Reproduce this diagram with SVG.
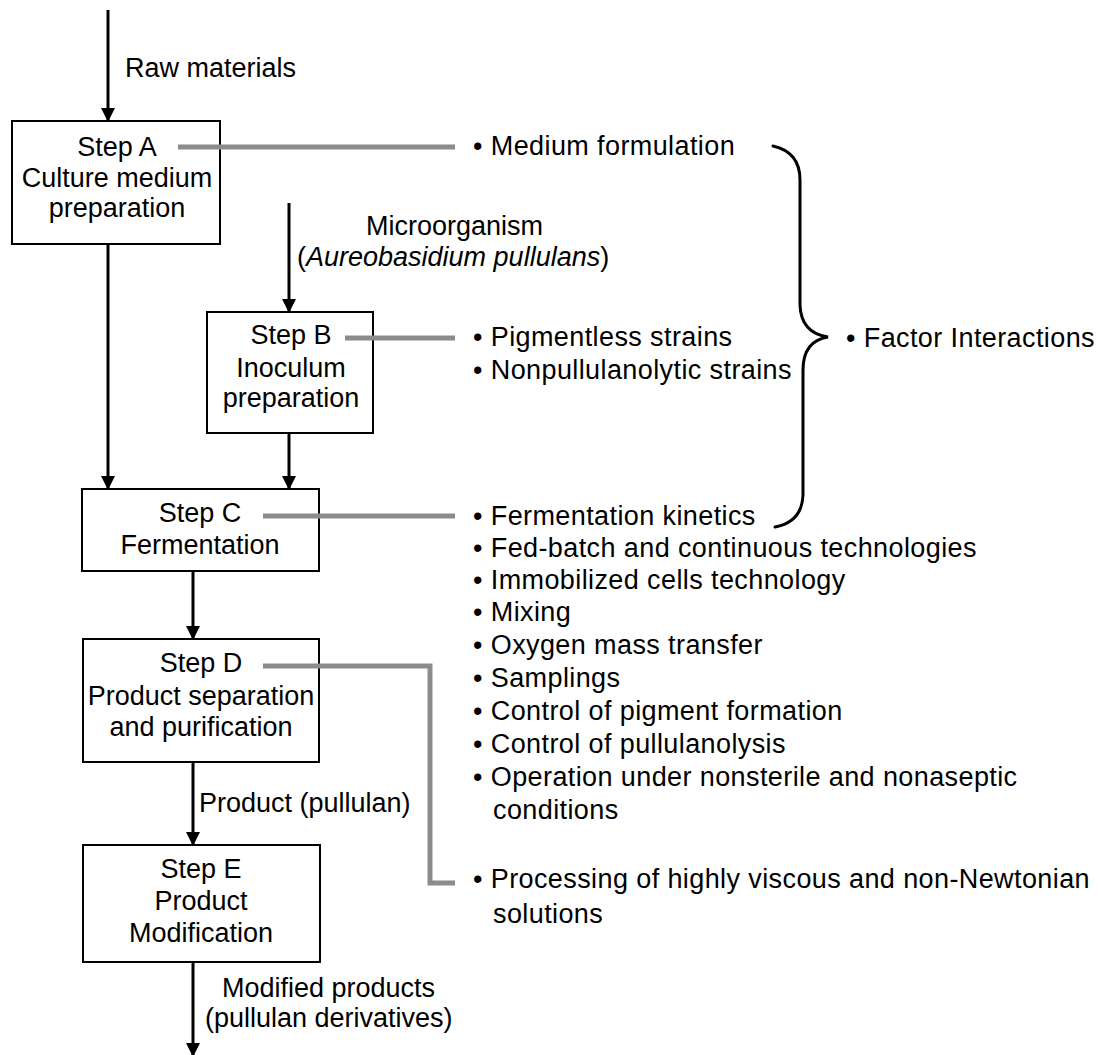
<svg xmlns="http://www.w3.org/2000/svg" width="1098" height="1055" viewBox="0 0 1098 1055">
<style>
text{font-family:"Liberation Sans",Arial,sans-serif;font-size:27px;fill:#000}
.c{text-anchor:middle}
.l{letter-spacing:0.4px}
.box{fill:#fff;stroke:#000;stroke-width:2}
.arr{stroke:#000;stroke-width:3;fill:none;marker-end:url(#ah)}
.gl{stroke:#8c8c8c;stroke-width:5;fill:none}
.br{stroke:#000;stroke-width:3;fill:none;stroke-linecap:round}
</style>
<defs>
<marker id="ah" markerWidth="14" markerHeight="14" viewBox="0 0 14 14" refX="13" refY="7" orient="auto" markerUnits="userSpaceOnUse">
<path d="M0,0 L14,7 L0,14 Z" fill="#000"/>
</marker>
</defs>
<rect width="1098" height="1055" fill="#fff"/>
<g id="stepA">
<rect class="box" x="12" y="121" width="208" height="123"/>
<text class="c" x="117" y="156">Step A</text>
<text class="c" x="117" y="187">Culture medium</text>
<text class="c" x="117" y="217">preparation</text>
</g>
<g id="stepB">
<rect class="box" x="207" y="312" width="166" height="121"/>
<text class="c" x="291" y="344">Step B</text>
<text class="c" x="291" y="377">Inoculum</text>
<text class="c" x="291" y="407">preparation</text>
</g>
<g id="stepC">
<rect class="box" x="82" y="489" width="237" height="82"/>
<text class="c" x="200" y="522">Step C</text>
<text class="c" x="200" y="554">Fermentation</text>
</g>
<g id="stepD">
<rect class="box" x="83" y="639" width="236" height="123"/>
<text class="c" x="201" y="672">Step D</text>
<text class="c" x="201" y="705">Product separation</text>
<text class="c" x="201" y="736">and purification</text>
</g>
<g id="stepE">
<rect class="box" x="83" y="845" width="237" height="117"/>
<text class="c" x="201" y="878">Step E</text>
<text class="c" x="201" y="910">Product</text>
<text class="c" x="201" y="942">Modification</text>
</g>
<g id="connectors">
<line class="arr" x1="108" y1="10" x2="108" y2="121"/>
<line class="arr" x1="108" y1="245" x2="108" y2="489"/>
<line class="arr" x1="289" y1="203" x2="289" y2="312"/>
<line class="arr" x1="289" y1="434" x2="289" y2="489"/>
<line class="arr" x1="193" y1="572" x2="193" y2="639"/>
<line class="arr" x1="193" y1="763" x2="193" y2="845"/>
<line class="arr" x1="193" y1="963" x2="193" y2="1056"/>
<line class="gl" x1="178" y1="147" x2="455" y2="147"/>
<line class="gl" x1="345" y1="338" x2="455" y2="338"/>
<line class="gl" x1="263" y1="516" x2="455" y2="516"/>
<polyline class="gl" points="263,666 430,666 430,883 455,883"/>
<path class="br" d="M773,146 Q800,152 800,180 L800,305 Q801,333 828,337 Q803,341 803,370 L803,495 Q802,522 775,527"/>
</g>
<g id="labels">
<text x="125" y="77">Raw materials</text>
<text x="366" y="235">Microorganism</text>
<text x="297" y="266">(<tspan font-style="italic">Aureobasidium pullulans</tspan>)</text>
<text x="199" y="812">Product (pullulan)</text>
<text x="222" y="997">Modified products</text>
<text x="205" y="1027">(pullulan derivatives)</text>
</g>
<g id="factorsA">
<text class="l" x="473" y="155">• Medium formulation</text>
</g>
<g id="factorsB">
<text class="l" x="473" y="346">• Pigmentless strains</text>
<text class="l" x="473" y="379">• Nonpullulanolytic strains</text>
</g>
<g id="factorInteractions">
<text class="l" x="846" y="347">• Factor Interactions</text>
</g>
<g id="factorsC">
<text class="l" x="473" y="525">• Fermentation kinetics</text>
<text class="l" x="473" y="557">• Fed-batch and continuous technologies</text>
<text class="l" x="473" y="589">• Immobilized cells technology</text>
<text class="l" x="473" y="621">• Mixing</text>
<text class="l" x="473" y="654">• Oxygen mass transfer</text>
<text class="l" x="473" y="687">• Samplings</text>
<text class="l" x="473" y="720">• Control of pigment formation</text>
<text class="l" x="473" y="753">• Control of pullulanolysis</text>
<text class="l" x="473" y="786">• Operation under nonsterile and nonaseptic</text>
<text class="l" x="493" y="819">conditions</text>
</g>
<g id="factorsD">
<text class="l" x="473" y="888">• Processing of highly viscous and non-Newtonian</text>
<text class="l" x="493" y="923">solutions</text>
</g>
</svg>
